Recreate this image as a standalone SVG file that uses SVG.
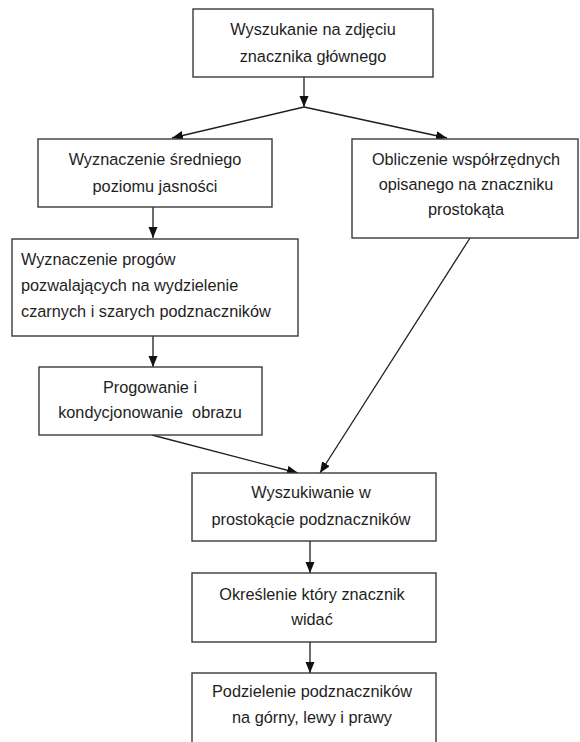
<svg xmlns="http://www.w3.org/2000/svg" width="580" height="742" viewBox="0 0 580 742">
<style>
.box{fill:#fff;stroke:#3a3a3a;stroke-width:1.4}
.t{font-family:"Liberation Sans",Arial,sans-serif;font-size:16.3px;fill:#1e1e1e;text-anchor:middle}
.tl{text-anchor:start}
.c{fill:none;stroke:#1e1e1e;stroke-width:1.3;marker-end:url(#ah)}
</style>
<defs>
<marker id="ah" markerUnits="userSpaceOnUse" markerWidth="12" markerHeight="10" refX="11" refY="4.5" orient="auto">
<path d="M0,0 L11,4.5 L0,9 z" fill="#111"/>
</marker>
</defs>
<rect width="580" height="742" fill="#fff"/>
<g id="connectors">
<line class="c" x1="304" y1="77" x2="304" y2="107"/>
<line class="c" x1="304" y1="107" x2="172" y2="138"/>
<line class="c" x1="304" y1="107" x2="447" y2="138"/>
<line class="c" x1="153" y1="207" x2="153" y2="238"/>
<line class="c" x1="153" y1="336" x2="153" y2="367"/>
<line class="c" x1="152" y1="435" x2="298" y2="473"/>
<line class="c" x1="470" y1="238" x2="320" y2="473"/>
<line class="c" x1="310" y1="541" x2="310" y2="573"/>
<line class="c" x1="310" y1="642" x2="310" y2="673"/>
</g>
<g id="n1">
<rect class="box" x="193" y="9" width="240" height="68"/>
<text class="t" x="313" y="35">Wyszukanie na zdjęciu</text>
<text class="t" x="313" y="62">znacznika głównego</text>
</g>
<g id="n2">
<rect class="box" x="38" y="139" width="234" height="68"/>
<text class="t" x="155" y="165">Wyznaczenie średniego</text>
<text class="t" x="155" y="192">poziomu jasności</text>
</g>
<g id="n3">
<rect class="box" x="352" y="139" width="226" height="99"/>
<text class="t" x="466" y="165">Obliczenie współrzędnych</text>
<text class="t" x="466" y="190">opisanego na znaczniku</text>
<text class="t" x="466" y="215">prostokąta</text>
</g>
<g id="n4">
<rect class="box" x="12" y="239" width="286" height="97"/>
<text class="t tl" x="21" y="265">Wyznaczenie progów</text>
<text class="t tl" x="21" y="291">pozwalających na wydzielenie</text>
<text class="t tl" x="21" y="317">czarnych i szarych podznaczników</text>
</g>
<g id="n5">
<rect class="box" x="39" y="367" width="223" height="68"/>
<text class="t" x="150" y="393">Progowanie i</text>
<text class="t" x="150" y="418" xml:space="preserve">kondycjonowanie  obrazu</text>
</g>
<g id="n6">
<rect class="box" x="192" y="473" width="244" height="68"/>
<text class="t" x="311" y="498">Wyszukiwanie w</text>
<text class="t" x="311" y="525">prostokącie podznaczników</text>
</g>
<g id="n7">
<rect class="box" x="192" y="573" width="244" height="69"/>
<text class="t" x="312" y="600">Określenie który znacznik</text>
<text class="t" x="312" y="625">widać</text>
</g>
<g id="n8">
<rect class="box" x="192" y="673" width="244" height="90"/>
<text class="t" x="312" y="697">Podzielenie podznaczników</text>
<text class="t" x="312" y="723">na górny, lewy i prawy</text>
</g>
</svg>
